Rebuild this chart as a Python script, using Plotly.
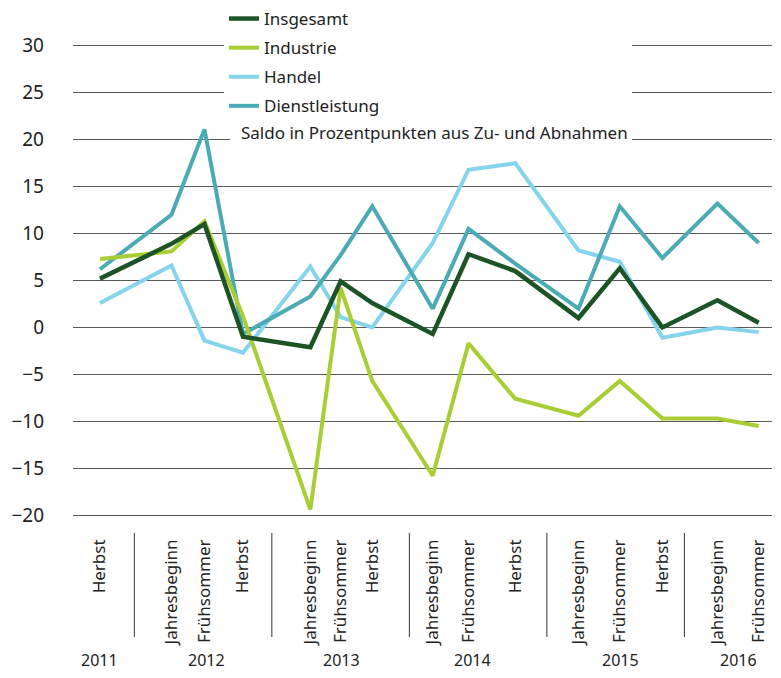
import plotly.graph_objects as go

# survey timing (fractional year) and labels
survey_time = [2011.75, 2012.27, 2012.51, 2012.79, 2013.28, 2013.50, 2013.73,
               2014.17, 2014.43, 2014.77, 2015.23, 2015.53, 2015.84, 2016.24, 2016.54]
wave_labels = ["Herbst", "Jahresbeginn", "Frühsommer", "Herbst",
               "Jahresbeginn", "Frühsommer", "Herbst",
               "Jahresbeginn", "Frühsommer", "Herbst",
               "Jahresbeginn", "Frühsommer", "Herbst",
               "Jahresbeginn", "Frühsommer"]
years = ["2011", "2012", "2013", "2014", "2015", "2016"]
year_bounds = [2012, 2013, 2014, 2015, 2016]

insgesamt = [5.2, 8.9, 11.0, -1.0, -2.1, 4.9, 2.6, -0.7, 7.8, 6.0, 1.0, 6.3, 0.0, 2.9, 0.5]
industrie = [7.3, 8.1, 11.3, 1.2, -19.4, 4.2, -5.7, -15.8, -1.7, -7.6, -9.4, -5.7, -9.7, -9.7, -10.5]
handel = [2.6, 6.6, -1.4, -2.7, 6.5, 1.1, 0.0, 9.0, 16.8, 17.5, 8.2, 7.0, -1.1, 0.0, -0.5]
dienstleistung = [6.2, 12.0, 21.1, -0.7, 3.3, 7.7, 12.9, 2.0, 10.5, 6.8, 2.0, 12.9, 7.4, 13.2, 9.0]

FONT = "Noto Sans"
TXT = "#222222"

series = [
    ("Handel", handel, "#84d4ec", 3, 4),
    ("Dienstleistung", dienstleistung, "#4aabb5", 4, 4),
    ("Industrie", industrie, "#a8cd35", 2, 4),
    ("Insgesamt", insgesamt, "#1d5425", 1, 4.5),
]

fig = go.Figure()
for name, vals, col, rank, w in series:
    fig.add_trace(go.Scatter(
        x=survey_time, y=vals, mode="lines", name=name,
        line=dict(color=col, width=w), legendrank=rank, legendgroup=name,
    ))

x0, x1 = 2011.554, 2016.637

# the page body adds an 8px offset; figure is sized to fit the window
W, H = 765, 662
L, T, R, B = 65, 35, 1, 152
PH = H - T - B  # plot height
PW = W - L - R


def ypaper(py):
    # fig pixel y -> paper coordinate
    return (H - B - py) / PH


def xpaper(px):
    return (px - L) / PW


# white box behind legend / note (interrupts the gridlines like the original)
fig.add_shape(type="rect", xref="paper", yref="paper", x0=xpaper(222), x1=xpaper(624),
              y0=ypaper(134), y1=1.0, fillcolor="white", line=dict(width=0),
              layer="above")

for b in year_bounds:
    fig.add_shape(type="line", xref="x", yref="paper", x0=b, x1=b,
                  y0=ypaper(525), y1=ypaper(629), line=dict(color="#333333", width=1))
year_pos = []
for yr in years:
    ts = [t for t in survey_time if int(t) == int(yr)]
    year_pos.append(sum(ts) / len(ts))
for yr, xp in zip(years, year_pos):
    fig.add_annotation(x=xp, y=ypaper(652), xref="x", yref="paper", text=yr,
                       showarrow=False, font=dict(family=FONT, size=16, color=TXT),
                       yanchor="middle")

fig.add_annotation(x=xpaper(230), y=ypaper(124), xref="paper", yref="paper",
                   text="Saldo in Prozentpunkten aus Zu- und Abnahmen", showarrow=False,
                   xanchor="left", yanchor="middle", bgcolor="white",
                   font=dict(family=FONT, size=17, color=TXT), borderpad=2)

fig.update_layout(
    width=W, height=H,
    margin=dict(l=L, r=R, t=T, b=B, autoexpand=False),
    paper_bgcolor="white", plot_bgcolor="white",
    font=dict(family=FONT, size=17, color=TXT),
    showlegend=True,
    legend=dict(x=xpaper(216), y=ypaper(-7), xanchor="left", yanchor="top",
                bgcolor="white", traceorder="grouped", tracegroupgap=4,
                font=dict(family=FONT, size=17, color=TXT), itemwidth=30),
    xaxis=dict(range=[x0, x1], tickmode="array", tickvals=survey_time, ticktext=wave_labels,
               tickangle=-90, showgrid=False, zeroline=False, showline=False,
               ticks="", ticklabelstandoff=17, tickfont=dict(family=FONT, size=17, color=TXT)),
    yaxis=dict(range=[-20.3, 30.3], tickmode="array", tickvals=list(range(-20, 31, 5)),
               showgrid=True, gridcolor="#5a5a5a", gridwidth=1.3,
               zeroline=True, zerolinecolor="#5a5a5a", zerolinewidth=1.3,
               showline=False, ticks="", ticklabelstandoff=28,
               tickfont=dict(family=FONT, size=19, color=TXT)),
)

fig.write_html("out.html")
